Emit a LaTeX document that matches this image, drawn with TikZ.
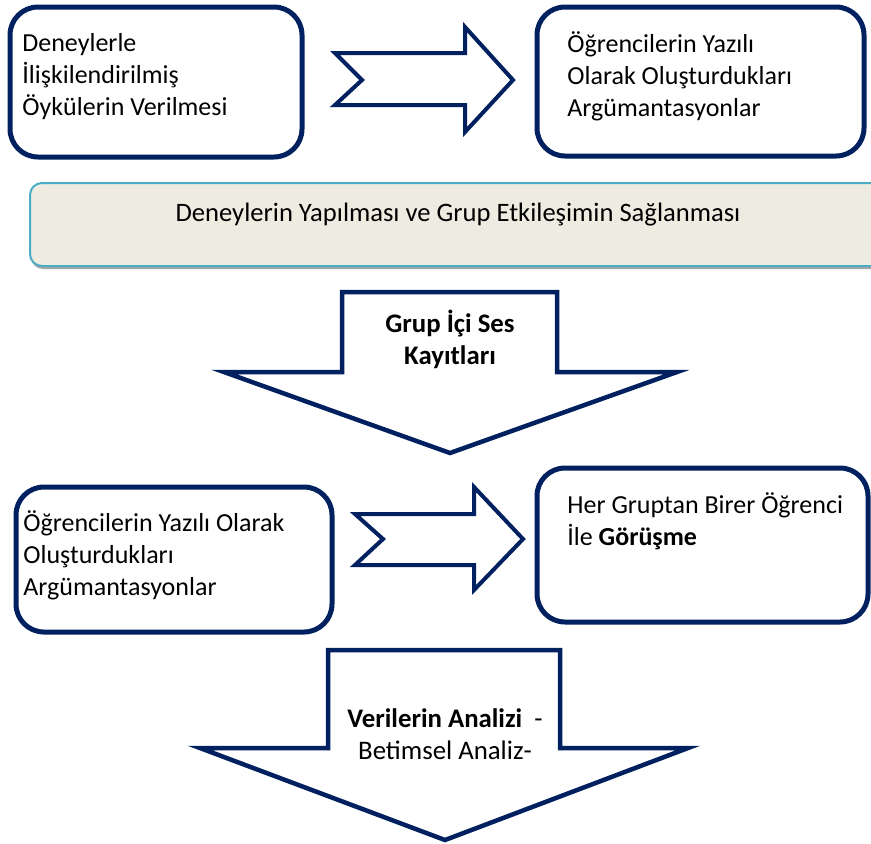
\documentclass[tikz,border=0pt]{standalone}
\usepackage{fontspec}
\setmainfont{Carlito}
\usetikzlibrary{shadows}
\definecolor{boxblue}{RGB}{0,32,96}
\definecolor{bandline}{RGB}{75,172,198}
\definecolor{bandfill}{RGB}{238,236,225}
\tikzset{
  roundbox/.style={draw=boxblue,line width=2.5pt,rounded corners=14pt,fill=white,inner sep=0pt},
  boxtext/.style={anchor=west,align=left,inner sep=0pt,font=\fontsize{13}{16}\selectfont},
  blockarrow/.style={draw=boxblue,line width=2pt,line join=miter,fill=white},
  band/.style={draw=bandline,line width=1pt,fill=bandfill,rounded corners=6pt,
    drop shadow={shadow xshift=0.5pt,shadow yshift=-1.5pt,fill=gray!70,opacity=1}},
  arrowtext/.style={align=center,inner sep=0pt,font=\fontsize{13.4}{16}\selectfont}
}

\begin{document}
\begin{tikzpicture}[x=0.5pt,y=-0.5pt]
    \useasboundingbox (0,0) rectangle (871,843);
    \clip (0,0) rectangle (871,843);

    % Upper row: stories and written arguments
    \node[roundbox,minimum width=146pt,minimum height=75pt] (story) at (156,82) {};
    \node[boxtext] (storytext) at (22,76.5) {Deneylerle\\İlişkilendirilmiş\\Öykülerin Verilmesi};
    \node[roundbox,minimum width=163.5pt,minimum height=74.5pt] (written) at (700.5,81.5) {};
    \node[boxtext] (writtentext) at (567,76) {Öğrencilerin Yazılı\\Olarak Oluşturdukları\\Argümantasyonlar};
    \draw[blockarrow] (335,53) -- (362,80) -- (335,105) -- (465,105) -- (465,132)
        -- (513,80) -- (465,27) -- (465,53) -- cycle;

    % Band across the page
    \node[band,minimum width=435pt,minimum height=41.5pt] (stage) at (465,224.5) {};
    \node[font=\fontsize{13.3}{15}\selectfont,inner sep=0pt] (stagetext) at (458,215)
        {Deneylerin Yapılması ve Grup Etkileşimin Sağlanması};

    % First down arrow
    \draw[blockarrow,line width=2.25pt] (342,292) -- (557,292) -- (557,372) -- (677,372)
        -- (450,453) -- (224,372) -- (342,372) -- cycle;
    \node[arrowtext] (record) at (450,339) {\textbf{Grup İçi Ses}\\\textbf{Kayıtları}};

    % Lower row: written arguments and interview
    \node[roundbox,minimum width=158pt,minimum height=72.5pt] (written2) at (174,559.5) {};
    \node[boxtext] (written2text) at (23,555) {Öğrencilerin Yazılı Olarak\\Oluşturdukları\\Argümantasyonlar};
    \node[roundbox,minimum width=165.5pt,minimum height=77pt] (talk) at (702.5,545) {};
    \node[boxtext] (talktext) at (567,521.5) {Her Gruptan Birer Öğrenci\\İle \textbf{Görüşme}};
    \draw[blockarrow] (355,514) -- (383,539) -- (355,565) -- (474,565) -- (474,590)
        -- (523,539) -- (474,487) -- (474,514) -- cycle;

    % Second down arrow
    \draw[blockarrow,line width=2.25pt] (328,650) -- (560,650) -- (560,748) -- (688,748)
        -- (445,840) -- (200,748) -- (328,748) -- cycle;
    \node[arrowtext] (analysis) at (445,734) {\textbf{Verilerin Analizi}\ \ -\\Betimsel Analiz-};
\end{tikzpicture}
\end{document}
